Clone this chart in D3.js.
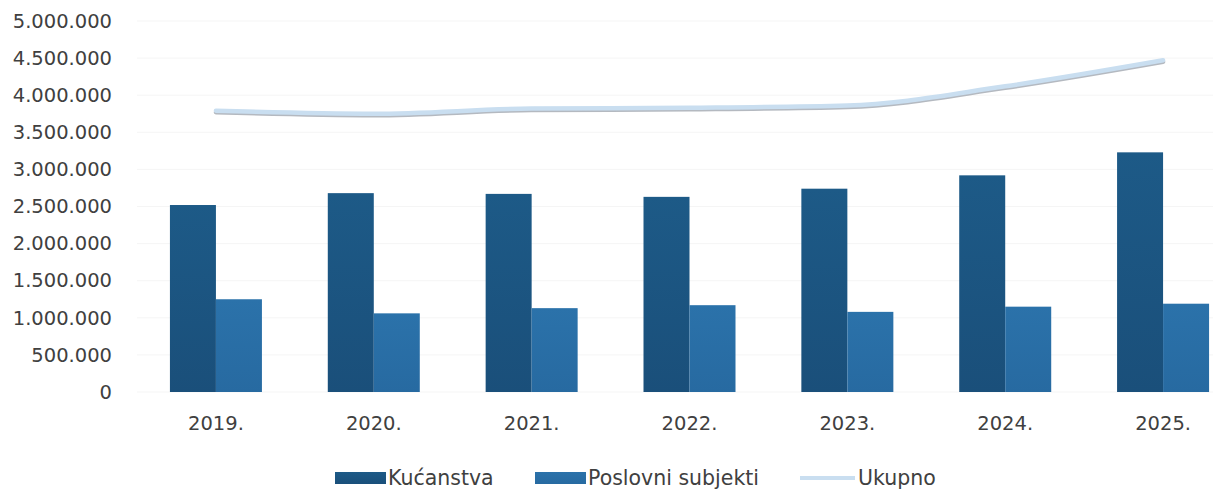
<!DOCTYPE html>
<html>
<head>
<meta charset="utf-8">
<script src="https://cdn.jsdelivr.net/npm/d3@7"></script>
<style>
  body { margin: 0; background: #fff; }
  text { font-family: "DejaVu Sans", sans-serif; }
</style>
</head>
<body>
<svg id="chart" width="1213" height="491"></svg>
<script>
const years = ["2019.", "2020.", "2021.", "2022.", "2023.", "2024.", "2025."];
const kucanstva = [2520000, 2680000, 2670000, 2630000, 2740000, 2920000, 3230000];
const poslovni = [1250000, 1060000, 1130000, 1170000, 1080000, 1150000, 1190000];
const ukupno = [3790000, 3750000, 3820000, 3830000, 3860000, 4120000, 4470000];
const yTicks = [0, 500000, 1000000, 1500000, 2000000, 2500000, 3000000, 3500000, 4000000, 4500000, 5000000];
const seriesNames = ["Kućanstva", "Poslovni subjekti", "Ukupno"];

const colors = {line: "#c9def0"};

const svg = d3.select("#chart");

const x = d3.scaleBand()
    .domain(years)
    .range([137, 1242])
    .paddingInner(0)
    .paddingOuter(0);

const y = d3.scaleLinear()
    .domain([0, 5000000])
    .range([392, 21]);

const fmt = v => d3.format(",")(v).replace(/,/g, ".");

// faint grid
svg.append("g")
    .selectAll("line")
    .data(yTicks)
    .join("line")
    .attr("x1", 137)
    .attr("x2", 1213)
    .attr("y1", d => y(d))
    .attr("y2", d => y(d))
    .attr("stroke", "#f5f5f5")
    .attr("stroke-width", 1);

// y axis labels
const yAxis = svg.append("g")
    .attr("transform", "translate(112,0)")
    .call(d3.axisLeft(y).tickValues(yTicks).tickFormat(fmt).tickSize(0).tickPadding(0));
yAxis.select(".domain").remove();
yAxis.selectAll("text")
    .attr("font-size", 19.5)
    .attr("fill", "#404040")
    .style("font-family", "'DejaVu Sans', sans-serif");

// x axis labels
const xAxis = svg.append("g")
    .attr("transform", "translate(0,413)")
    .call(d3.axisBottom(x).tickSize(0).tickPadding(0));
xAxis.select(".domain").remove();
xAxis.selectAll("text")
    .attr("font-size", 19.5)
    .attr("fill", "#404040")
    .attr("dy", "0.85em")
    .style("font-family", "'DejaVu Sans', sans-serif");

const barW = 46;

// gradients for the slightly shaded bars
const defs = svg.append("defs");
const grad = (id, c1, c2) => {
    const g = defs.append("linearGradient").attr("id", id)
        .attr("x1", 0).attr("x2", 0).attr("y1", 0).attr("y2", 1);
    g.append("stop").attr("offset", "0%").attr("stop-color", c1);
    g.append("stop").attr("offset", "100%").attr("stop-color", c2);
};
grad("gk", "#1d5a87", "#1a4f7a");
grad("gp", "#2b72aa", "#276aa1");

svg.append("g")
    .selectAll("rect")
    .data(years)
    .join("rect")
    .attr("x", (d) => x(d) + x.bandwidth() / 2 - barW)
    .attr("y", (d, i) => y(kucanstva[i]))
    .attr("width", barW)
    .attr("height", (d, i) => y(0) - y(kucanstva[i]))
    .attr("fill", "url(#gk)");

svg.append("g")
    .selectAll("rect")
    .data(years)
    .join("rect")
    .attr("x", (d) => x(d) + x.bandwidth() / 2)
    .attr("y", (d, i) => y(poslovni[i]))
    .attr("width", barW)
    .attr("height", (d, i) => y(0) - y(poslovni[i]))
    .attr("fill", "url(#gp)");

// total line
const line = d3.line()
    .x((d, i) => x(years[i]) + x.bandwidth() / 2)
    .y(d => y(d))
    .curve(d3.curveMonotoneX);

svg.append("path")
    .datum(ukupno)
    .attr("d", line)
    .attr("transform", "translate(0,1.5)")
    .attr("fill", "none")
    .attr("stroke", "#b4b9c0")
    .attr("stroke-width", 4.5)
    .attr("stroke-linecap", "round");

svg.append("path")
    .datum(ukupno)
    .attr("d", line)
    .attr("fill", "none")
    .attr("stroke", colors.line)
    .attr("stroke-width", 4.5)
    .attr("stroke-linecap", "round");

// legend
const legendItems = [
    {name: seriesNames[0], x: 335, type: "bar", fill: "url(#gk)"},
    {name: seriesNames[1], x: 535, type: "bar", fill: "url(#gp)"},
    {name: seriesNames[2], x: 800, type: "line", fill: colors.line}
];
const lg = svg.append("g").attr("transform", "translate(0,478)");
legendItems.forEach(it => {
    if (it.type === "bar") {
        lg.append("rect")
            .attr("x", it.x).attr("y", -6)
            .attr("width", 51).attr("height", 12)
            .attr("fill", it.fill);
    } else {
        lg.append("line")
            .attr("x1", it.x).attr("x2", it.x + 55)
            .attr("y1", 0).attr("y2", 0)
            .attr("stroke", it.fill).attr("stroke-width", 4);
    }
    lg.append("text")
        .attr("x", it.x + (it.type === "bar" ? 53 : 58))
        .attr("y", 0)
        .attr("dy", "0.36em")
        .attr("font-size", 20.5)
        .attr("fill", "#404040")
        .text(it.name);
});
</script>
</body>
</html>
